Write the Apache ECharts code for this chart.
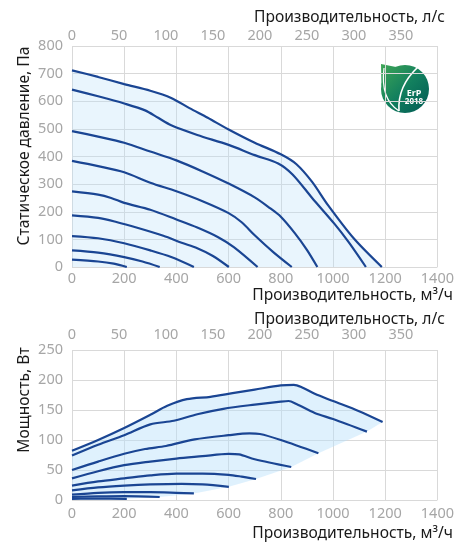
<!DOCTYPE html>
<html><head><meta charset="utf-8">
<script src="https://cdn.jsdelivr.net/npm/echarts@6/dist/echarts.min.js"></script>
<style>html,body{margin:0;padding:0;background:#fff}#c{width:457px;height:542px}</style>
</head><body><div id="c"></div>
<script>
// Axes
const flowMax = 1400, flowStep = 200;          // m3/h
const litresMax = 1400 / 3.6, litresStep = 50;  // l/s
const pressureMax = 800, pressureStep = 100;    // Pa
const powerMax = 250, powerStep = 50;           // W

const flowTitleTop = 'Производительность, л/с';
const flowTitleBottom = 'Производительность, м³/ч';
const pressureTitle = 'Статическое давление, Па';
const powerTitle = 'Мощность, Вт';

// Static pressure curves [m3/h, Pa]
const pressure1 = [[0,712],[100,688],[200,662],[300,638],[380,612],[450,575],[520,540],[600,498],[700,450],[800,408],[860,372],[920,308],[980,225],[1080,103],[1187,0]];
const pressure2 = [[0,642],[100,618],[200,592],[280,567],[330,540],[380,513],[480,478],[600,442],[700,405],[790,375],[845,335],[920,250],[1005,157],[1060,90],[1126,0]];
const pressure3 = [[0,492],[100,472],[200,450],[300,418],[400,386],[500,346],[600,302],[700,252],[760,212],[800,182],[855,121],[900,62],[940,0]];
const pressure4 = [[0,384],[100,365],[200,343],[300,305],[400,274],[500,238],[600,195],[650,162],[700,115],[770,55],[842,0]];
const pressure5 = [[0,274],[100,262],[150,250],[200,232],[300,207],[400,172],[480,143],[560,108],[620,72],[711,0]];
const pressure6 = [[0,187],[100,178],[170,163],[250,142],[350,113],[420,88],[480,68],[540,40],[601,0]];
const pressure7 = [[0,112],[100,104],[200,86],[300,60],[380,36],[467,0]];
const pressure8 = [[0,60],[100,52],[200,36],[270,20],[336,0]];
const pressure9 = [[0,27],[100,20],[160,12],[210,0]];

// Power curves [m3/h, W]
const power1 = [[0,82],[100,100],[200,120],[300,142],[365,157],[440,168],[530,172],[615,178],[700,184],[800,191],[850,192],[880,188],[930,177],[1000,165],[1100,148],[1190,130]];
const power2 = [[0,74],[100,92],[200,108],[300,126],[390,132],[480,143],[580,152],[700,159],[800,164],[830,165],[860,160],[930,145],[1000,135],[1130,114]];
const power3 = [[0,50],[100,64],[200,77],[280,85],[360,90],[470,101],[600,108],[680,111],[720,110],[800,100],[944,78]];
const power4 = [[0,36],[100,48],[200,58],[300,64],[400,69],[500,73],[600,77],[640,76],[700,68],[840,55]];
const power5 = [[0,24],[100,31],[200,36],[300,41],[400,44],[500,44],[600,42],[650,39],[705,35]];
const power6 = [[0,16],[100,21],[200,24],[300,26],[420,27],[500,26],[601,22]];
const power7 = [[0,9],[100,12],[200,13],[300,13],[400,12],[467,11]];
const power8 = [[0,5],[100,6],[200,6.5],[336,5]];
const power9 = [[0,2],[100,2.5],[210,2]];
// lower edge of the shaded power region (curve end points), right to left
const powerFillLower = [[1190,130],[1130,114],[944,78],[840,55],[705,35],[601,22],[467,11],[336,5],[210,2],[0,0]];

const pressureSeries = [pressure1,pressure2,pressure3,pressure4,pressure5,pressure6,pressure7,pressure8,pressure9];
const powerSeries = [power1,power2,power3,power4,power5,power6,power7,power8,power9];

const lineColor = '#1a4593';
const fillColor = 'rgba(185,223,250,0.45)';
const gridColor = '#d9d9d9';
const labelColor = '#a6a6a6';
const FONT = '"Noto Sans", "Open Sans", sans-serif';
const TICK_SIZE = 14.5;

const chart = echarts.init(document.getElementById('c'), null, {renderer:'canvas'});

function flowAxis(gridIndex, margin){
  return {type:'value', gridIndex, position:'bottom', min:0, max:flowMax, interval:flowStep,
    axisLine:{show:false}, axisTick:{show:false},
    splitLine:{show:true, lineStyle:{color:gridColor, width:1}},
    axisLabel:{color:labelColor, fontSize:TICK_SIZE, fontFamily:FONT, margin, formatter:v=>String(v)}};
}
function litresAxis(gridIndex, margin){
  return {type:'value', gridIndex, position:'top', min:0, max:litresMax, interval:litresStep,
    axisLine:{show:false}, axisTick:{show:false}, splitLine:{show:false},
    axisLabel:{color:labelColor, fontSize:TICK_SIZE, fontFamily:FONT, margin,
      formatter:v => (Math.abs(v/litresStep - Math.round(v/litresStep))<1e-6 ? String(Math.round(v)) : '')}};
}
function lineSeries(data, xi, yi, area){
  const s = {type:'line', xAxisIndex:xi, yAxisIndex:yi, data, smooth:0.3, symbol:'none',
    lineStyle:{color:lineColor, width:2.2}, silent:true, z:3};
  if(area){ s.areaStyle = {color:fillColor}; }
  return s;
}

const series = [];
pressureSeries.forEach((d,i)=>series.push(lineSeries(d,0,0,i===0)));
series.push({type:'custom', xAxisIndex:2, yAxisIndex:1, data:[[0,0]], silent:true, z:2,
  renderItem:function(params, api){
    const pts = power1.map(p=>api.coord(p)).concat(powerFillLower.map(p=>api.coord(p)));
    return {type:'polygon', shape:{points:pts}, style:{fill:fillColor}};
  }});
powerSeries.forEach(d=>series.push(lineSeries(d,2,1,false)));

const titleFont = '15.6px ' + FONT;
function logoGrad(){
  return new echarts.graphic.LinearGradient(381,65,429,113,
    [{offset:0,color:'#3ea556'},{offset:0.5,color:'#127f5e'},{offset:1,color:'#005954'}], true);
}

chart.setOption({
  animation:false,
  backgroundColor:'#fff',
  grid:[
    {left:72, right:12, top:46, height:221},
    {left:72, right:12, top:350, height:150}
  ],
  xAxis:[flowAxis(0,4), litresAxis(0,3), flowAxis(1,6), litresAxis(1,8)],
  yAxis:[
    {type:'value', gridIndex:0, min:0, max:pressureMax, interval:pressureStep,
      axisLine:{show:false}, axisTick:{show:false},
      splitLine:{show:true, lineStyle:{color:gridColor, width:1}},
      axisLabel:{color:labelColor, fontSize:TICK_SIZE, fontFamily:FONT, margin:9}},
    {type:'value', gridIndex:1, min:0, max:powerMax, interval:powerStep,
      axisLine:{show:false}, axisTick:{show:false},
      splitLine:{show:true, lineStyle:{color:gridColor, width:1}},
      axisLabel:{color:labelColor, fontSize:TICK_SIZE, fontFamily:FONT, margin:9}}
  ],
  series,
  graphic:[
    {type:'text', x:445, y:18, style:{text:flowTitleTop, fill:'#1a1a1a', font:titleFont, align:'right', verticalAlign:'middle', textAlign:'right', textVerticalAlign:'middle'}},
    {type:'text', x:453, y:296, style:{text:flowTitleBottom, fill:'#1a1a1a', font:titleFont, align:'right', verticalAlign:'middle', textAlign:'right', textVerticalAlign:'middle'}},
    {type:'text', x:445, y:320, style:{text:flowTitleTop, fill:'#1a1a1a', font:titleFont, align:'right', verticalAlign:'middle', textAlign:'right', textVerticalAlign:'middle'}},
    {type:'text', x:453, y:534, style:{text:flowTitleBottom, fill:'#1a1a1a', font:titleFont, align:'right', verticalAlign:'middle', textAlign:'right', textVerticalAlign:'middle'}},
    {type:'text', x:25, y:146, rotation:Math.PI/2, style:{text:pressureTitle, fill:'#1a1a1a', font:titleFont, align:'center', verticalAlign:'middle', textAlign:'center', textVerticalAlign:'middle'}},
    {type:'text', x:25, y:400, rotation:Math.PI/2, style:{text:powerTitle, fill:'#1a1a1a', font:titleFont, align:'center', verticalAlign:'middle', textAlign:'center', textVerticalAlign:'middle'}},
    {type:'group', z:10, children:[
      {type:'polygon', shape:{points:[[381,64],[381.5,86],[396,67]]}, style:{fill:logoGrad()}},
      {type:'circle', shape:{cx:405, cy:89, r:24}, style:{fill:logoGrad()}},
      {type:'bezierCurve', shape:{x1:384,y1:68,cpx1:381,cpy1:92,cpx2:388,cpy2:104,x2:399,y2:111}, style:{stroke:'#fff', lineWidth:1.2, fill:null}},
      {type:'bezierCurve', shape:{x1:418,y1:67,cpx1:404,cpy1:80,cpx2:398,cpy2:96,x2:399,y2:111}, style:{stroke:'#fff', lineWidth:1.6, fill:null}},
      {type:'text', x:414, y:93, style:{text:'ErP', fill:'#fff', font:'bold 9px "Noto Sans"', align:'center', verticalAlign:'middle', textAlign:'center', textVerticalAlign:'middle'}},
      {type:'text', x:414, y:102, style:{text:'2018', fill:'#fff', font:'bold 8px "Noto Sans"', align:'center', verticalAlign:'middle', textAlign:'center', textVerticalAlign:'middle'}}
    ]}
  ]
});
</script></body></html>
